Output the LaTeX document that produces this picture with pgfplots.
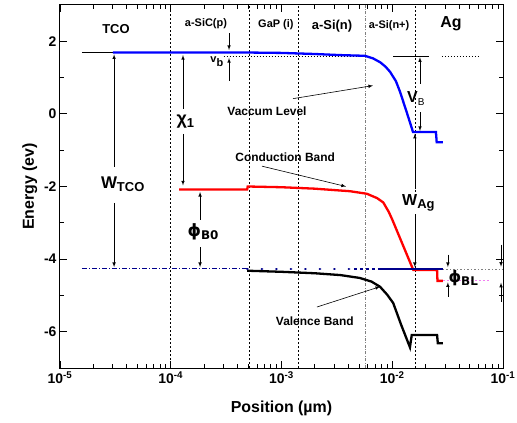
\documentclass[border=0pt]{standalone}
\usepackage{pgfplots}
\pgfplotsset{compat=1.18}
\usepackage{fontspec}
\setmainfont{Liberation Sans}
\newfontfamily\dv{DejaVu Sans}
\definecolor{navy}{rgb}{0,0,0.55}
\definecolor{pinkm}{rgb}{0.95,0.5,0.95}
\newcommand\fs[1]{\fontsize{#1}{#1}\selectfont\bfseries}
\begin{document}
\begin{tikzpicture}
\begin{axis}[
  scale only axis, width=443bp, height=363bp,
  xmode=log, xmin=1e-5, xmax=1e-1, ymin=-7, ymax=3,
  xtick={1e-5,1e-4,1e-3,1e-2,1e-1},
  xticklabels={10\textsuperscript{-5},10\textsuperscript{-4},10\textsuperscript{-3},10\textsuperscript{-2},10\textsuperscript{-1}},
  ytick={-6,-4,-2,0,2}, yticklabels={-6,-4,-2,0,2},
  minor ytick={-5,-3,-1,1},
  ticklabel style={font=\fs{14}},
  xlabel={Position (µm)}, ylabel={Energy (ev)},
  label style={font=\fs{16}},
  xlabel style={at={(axis description cs:0.5,-0.11)}, anchor=center},
  ylabel style={at={(axis description cs:-0.068,0.5)}, anchor=center},
  tick align=inside, major tick length=7bp, minor tick length=4bp,
  axis line style={line width=1bp},
  every tick/.style={black, line width=0.8bp},
  clip=false,
]
% region dividers
\addplot[black, line width=0.6bp, dash pattern=on 2bp off 2bp] coordinates {(1e-4,-7) (1e-4,3)};
\addplot[black, line width=0.6bp, dash pattern=on 2bp off 2bp] coordinates {(5.1e-4,-7) (5.1e-4,3)};
\addplot[black, line width=0.6bp, dash pattern=on 2bp off 2bp] coordinates {(1.41e-3,-7) (1.41e-3,3)};
\addplot[gray, line width=0.6bp, dash pattern=on 3bp off 1.5bp on 0.8bp off 1.5bp] coordinates {(5.67e-3,-7) (5.67e-3,3)};
\addplot[black, line width=0.6bp, dash pattern=on 2bp off 2bp] coordinates {(1.6e-2,-7) (1.6e-2,3)};
% reference levels
\addplot[black, line width=0.6bp] coordinates {(1.58e-5,1.69) (3e-5,1.69)};
\addplot[black, line width=0.6bp, dash pattern=on 1.5bp off 1.5bp] coordinates {(3.0e-4,1.58) (5.67e-3,1.58)};
\addplot[black, line width=0.6bp] coordinates {(1.02e-2,1.58) (2.15e-2,1.58)};
\addplot[black, line width=0.6bp, dash pattern=on 1.5bp off 1.5bp] coordinates {(2.81e-2,1.58) (5.95e-2,1.58)};
\addplot[gray, line width=0.7bp, dash pattern=on 1.5bp off 2bp] coordinates {(2.87e-2,-4.27) (1e-1,-4.27)};
\addplot[pinkm, line width=0.8bp, dash pattern=on 2bp off 2bp] coordinates {(2.87e-2,-4.6) (7.6e-2,-4.6)};
% vacuum level
\addplot[blue, line width=2.3bp] coordinates {(3.0e-5,1.69) (1e-4,1.69) (5.1e-4,1.69) (1e-3,1.68) (2e-3,1.65) (3.37e-3,1.62) (5.67e-3,1.60) (6.7e-3,1.53) (7.8e-3,1.42) (8.7e-3,1.30) (9.55e-3,1.16) (1.08e-2,0.90) (1.175e-2,0.61) (1.35e-2,0.05) (1.54e-2,-0.5) (2.48e-2,-0.5) (2.52e-2,-0.78) (2.87e-2,-0.78)};
% conduction band
\addplot[red, line width=2.3bp] coordinates {(1.19e-4,-2.08) (4.9e-4,-2.08) (4.95e-4,-2.0) (1e-3,-2.02) (2e-3,-2.06) (3.37e-3,-2.11) (4.15e-3,-2.13) (5.9e-3,-2.20) (7.3e-3,-2.32) (8.3e-3,-2.44) (9.3e-3,-2.7) (1.0e-2,-2.91) (1.51e-2,-4.22) (1.55e-2,-4.30) (2.54e-2,-4.30) (2.56e-2,-4.6) (2.87e-2,-4.6)};
% valence band
\addplot[black, line width=2.3bp] coordinates {(4.9e-4,-4.32) (1e-3,-4.35) (2e-3,-4.39) (3.4e-3,-4.44) (5.1e-3,-4.52) (6.5e-3,-4.62) (7.75e-3,-4.76) (9e-3,-4.98) (1.02e-2,-5.21) (1.2e-2,-5.8) (1.445e-2,-6.43) (1.5e-2,-6.09) (2.54e-2,-6.09) (2.58e-2,-6.32) (2.87e-2,-6.32)};
% Fermi level
\addplot[navy, line width=1bp, dash pattern=on 5bp off 2bp on 1bp off 2bp] coordinates {(1.58e-5,-4.27) (4.9e-4,-4.27)};
\addplot[navy, line width=2.2bp, line cap=round, dash pattern=on 0.5bp off 14bp] coordinates {(4.9e-4,-4.27) (4.5e-3,-4.27)};
\addplot[navy, line width=2.2bp, dash pattern=on 3bp off 3bp] coordinates {(4.5e-3,-4.27) (7.7e-3,-4.27)};
\addplot[navy, line width=2bp] coordinates {(7.7e-3,-4.26) (2.87e-2,-4.26)};
% region labels
\node[font=\fs{13}] at (3.2e-5,2.35) {TCO};
\node[font=\fs{11}] at (2.08e-4,2.49) {a-SiC(p)};
\node[font=\fs{11}] at (8.9e-4,2.45) {GaP (i)};
\node[font=\fs{13}] at (2.86e-3,2.43) {a-Si(n)};
\node[font=\fs{11}] at (9.35e-3,2.43) {a-Si(n+)};
\node[font=\fs{16}] at (3.39e-2,2.49) {Ag};
% arrows
\tikzset{arr/.style={-latex, black, line width=0.6bp}}
% W_TCO
\draw[arr] (3.08e-5,-1.45) -- (3.08e-5,1.64);
\draw[arr] (3.08e-5,-2.45) -- (3.08e-5,-4.22);
\node[font=\fs{17}] at (3.7e-5,-1.94) {W\textsubscript{\fs{13}TCO}};
% chi_1
\draw[arr] (1.29e-4,0.14) -- (1.29e-4,1.62);
\draw[arr] (1.29e-4,-0.55) -- (1.29e-4,-1.97);
\node[font=\fs{18}] at (1.36e-4,-0.22) {χ\textsubscript{\fs{13}1}};
% phi_B0
\draw[arr] (1.84e-4,-2.91) -- (1.84e-4,-2.15);
\draw[arr] (1.84e-4,-3.68) -- (1.84e-4,-4.22);
\node[font=\fs{17}] at (1.97e-4,-3.24) {\dv ϕ\textsubscript{\fs{12}B0}};
% v_b
\draw[arr] (3.36e-4,2.22) -- (3.36e-4,1.76);
\draw[arr] (3.36e-4,0.91) -- (3.36e-4,1.54);
\node[font=\fs{11}] at (2.62e-4,1.44) {v\textsubscript{\fs{11}b}};
% V_B
\draw[arr] (1.78e-2,0.83) -- (1.78e-2,1.56);
\draw[arr] (1.78e-2,0.05) -- (1.78e-2,-0.47);
\node[font=\fs{16}] at (1.64e-2,0.42) {V\textsubscript{\normalfont\fontsize{10}{10}\selectfont B}};
% W_Ag
\draw[arr] (1.6e-2,-2.08) -- (1.6e-2,-0.55);
\draw[arr] (1.6e-2,-2.77) -- (1.6e-2,-4.22);
\node[font=\fs{16}, fill=white, inner sep=1bp] at (1.73e-2,-2.44) {W\textsubscript{\fs{13}Ag}};
% phi_BL
\draw[arr] (3.18e-2,-3.88) -- (3.18e-2,-4.22);
\draw[arr] (3.18e-2,-5.04) -- (3.18e-2,-4.64);
\node[font=\fs{16}] at (4.4e-2,-4.52) {\dv ϕ\textsubscript{\fs{12}BL}};
% right arrows
\draw[arr] (0.096,-3.6) -- (0.096,-4.21);
\draw[arr] (0.096,-5.18) -- (0.096,-4.65);
% band labels
\node[font=\fs{12}] at (7.4e-4,0.08) {Vaccum Level};
\draw[arr] (1.27e-3,0.42) -- (6.7e-3,0.78);
\node[font=\fs{12}] at (1.08e-3,-1.19) {Conduction Band};
\draw[arr] (6.67e-4,-1.44) -- (3.82e-3,-2.0);
\node[font=\fs{12}] at (2.0e-3,-5.71) {Valence Band};
\draw[arr] (2.09e-3,-5.32) -- (7.75e-3,-4.76);
\end{axis}
\pgfresetboundingbox
\path[use as bounding box] (-60bp,-55bp) rectangle (457bp,368bp);
\end{tikzpicture}
\end{document}
